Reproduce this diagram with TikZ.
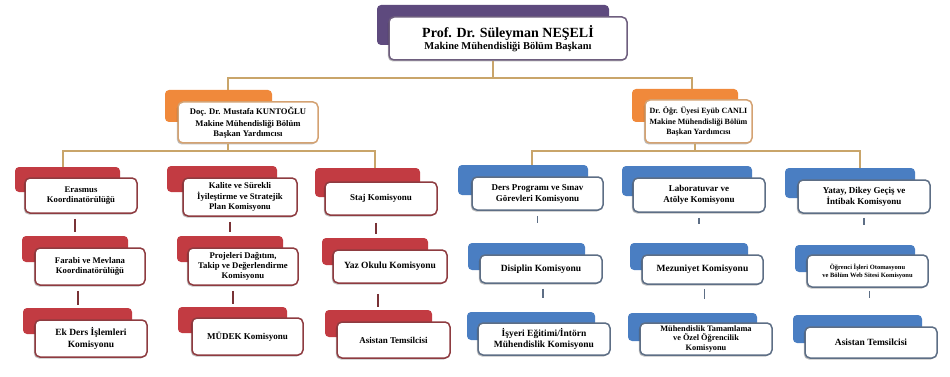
\documentclass[tikz,border=0pt]{standalone}
\usepackage{fontspec}
\setmainfont{Liberation Serif}
\usetikzlibrary{shadows}
\definecolor{purp}{HTML}{5E4A7E}
\definecolor{purpb}{HTML}{6E5E7E}
\definecolor{orn}{HTML}{F0893B}
\definecolor{ornb}{HTML}{D4A272}
\definecolor{rd}{HTML}{C23B42}
\definecolor{rdb}{HTML}{8E3B40}
\definecolor{bl}{HTML}{4A7EC2}
\definecolor{blb}{HTML}{5D6E85}
\definecolor{tan}{HTML}{C9A56A}
\newcommand{\bx}[7]{\node[#2, minimum width={(#5-#3)*1pt}, minimum height={(#6-#4)*1pt}] (#1) at ({(#3+#5)/2},{(#4+#6)/2}) {#7};}
\begin{document}
\begin{tikzpicture}[x=1pt,y=-1pt,
  backbox/.style={rounded corners=4pt, inner sep=0pt, draw=none},
  frontbox/.style={rounded corners=5pt, inner sep=1pt, fill=white, line width=1.5pt, align=center, font=\bfseries\fontsize{8.7}{10.2}\selectfont,
     drop shadow={shadow xshift=-1.2pt, shadow yshift=-1.5pt, opacity=0.25, fill=black}},
  fsz/.style={font=\bfseries\fontsize{#1}{11.5}\selectfont},
  purpback/.style={backbox, fill=purp},
  purpfront/.style={frontbox, draw=purpb},
  ornback/.style={backbox, fill=orn},
  ornfront/.style={frontbox, draw=ornb, font=\bfseries\fontsize{8.6}{10.2}\selectfont},
  redback/.style={backbox, fill=rd},
  redfront/.style={frontbox, draw=rdb},
  blueback/.style={backbox, fill=bl},
  bluefront/.style={frontbox, draw=blb, font=\bfseries\fontsize{9}{11}\selectfont},
  conn/.style={draw=tan, line width=1.5pt},
  redstub/.style={draw=rdb!85!black, line width=1.6pt},
  bluestub/.style={draw=blb, line width=1.6pt}
]
\useasboundingbox (0,0) rectangle (950,377);
\fill[white] (0,0) rectangle (950,377);

% top
\bx{topB}{purpback}{377}{5}{609}{45}{}
\bx{topF}{purpfront}{389}{17}{627}{60}{{\fontsize{14}{16}\selectfont Prof. Dr. Süleyman NEŞELİ}\\{\fontsize{10.5}{11.5}\selectfont Makine Mühendisliği Bölüm Başkanı}}

% orange
\bx{OLB}{ornback}{165}{90}{272}{122}{}
\bx{OLF}{ornfront}{178}{102}{318}{143}{Doç. Dr. Mustafa KUNTOĞLU\\[1.5pt]Makine Mühendisliği Bölüm\\Başkan Yardımcısı}
\bx{ORB}{ornback}{632}{89}{738}{122}{}
\bx{ORF}{ornfront, font=\bfseries\fontsize{8}{10}\selectfont}{645}{100}{752}{143}{Dr. Öğr. Üyesi Eyüb CANLI\\[1.5pt]Makine Mühendisliği Bölüm\\Başkan Yardımcısı}

% red groups
\bx{R11B}{redback}{15}{167}{120}{192}{}
\bx{R11F}{redfront}{25}{178}{137}{213}{Erasmus\\Koordinatörülüğü}
\bx{R12B}{redback}{167}{166}{277}{192}{}
\bx{R12F}{redfront}{183}{178}{297}{216}{Kalite ve Sürekli\\İyileştirme ve Stratejik\\Plan Komisyonu}
\bx{R13B}{redback}{315}{168}{420}{197}{}
\bx{R13F}{redfront, fsz=9}{325}{182}{437}{215}{Staj Komisyonu}
\bx{R21B}{redback}{22}{236}{128}{262}{}
\bx{R21F}{redfront}{35}{248}{145}{285}{Farabi ve Mevlana\\Koordinatörülüğü}
\bx{R22B}{redback}{177}{236}{283}{262}{}
\bx{R22F}{redfront}{188}{248}{298}{285}{Projeleri Dağıtım,\\Takip ve Değerlendirme\\Komisyonu}
\bx{R23B}{redback}{322}{238}{428}{265}{}
\bx{R23F}{redfront, fsz=9.5}{333}{250}{447}{283}{Yaz Okulu Komisyonu}
\bx{R31B}{redback}{23}{308}{132}{334}{}
\bx{R31F}{redfront, fsz=9.5}{35}{320}{147}{357}{Ek Ders İşlemleri\\Komisyonu}
\bx{R32B}{redback}{178}{307}{287}{333}{}
\bx{R32F}{redfront, fsz=9}{192}{318}{303}{355}{MÜDEK Komisyonu}
\bx{R33B}{redback}{325}{310}{432}{337}{}
\bx{R33F}{redfront, fsz=9}{337}{322}{450}{358}{Asistan Temsilcisi}

% blue groups
\bx{B11B}{blueback}{458}{165}{588}{195}{}
\bx{B11F}{bluefront}{472}{177}{603}{210}{Ders Programı ve Sınav\\Görevleri Komisyonu}
\bx{B12B}{blueback}{622}{166}{752}{196}{}
\bx{B12F}{bluefront}{633}{178}{765}{212}{Laboratuvar ve\\Atölye Komisyonu}
\bx{B13B}{blueback}{785}{168}{915}{198}{}
\bx{B13F}{bluefront}{798}{180}{930}{213}{Yatay, Dikey Geçiş ve\\İntibak Komisyonu}
\bx{B21B}{blueback}{468}{243}{585}{270}{}
\bx{B21F}{bluefront, fsz=9.5}{480}{255}{602}{283}{Disiplin Komisyonu}
\bx{B22B}{blueback}{630}{243}{748}{270}{}
\bx{B22F}{bluefront, fsz=9.5}{642}{255}{763}{284}{Mezuniyet Komisyonu}
\bx{B23B}{blueback}{795}{245}{915}{272}{}
\bx{B23F}{bluefront, font=\bfseries\fontsize{6.5}{8}\selectfont}{807}{255}{928}{287}{Öğrenci İşleri Otomasyonu\\ve Bölüm Web Sitesi Komisyonu}
\bx{B31B}{blueback}{467}{312}{595}{340}{}
\bx{B31F}{bluefront, fsz=9.5}{478}{323}{610}{355}{İşyeri Eğitimi/İntörn\\Mühendislik Komisyonu}
\bx{B32B}{blueback}{628}{313}{757}{341}{}
\bx{B32F}{bluefront, font=\bfseries\fontsize{8.3}{9.3}\selectfont}{640}{323}{772}{355}{Mühendislik Tamamlama\\ve Özel Öğrencilik\\Komisyonu}
\bx{B33B}{blueback}{793}{315}{922}{343}{}
\bx{B33F}{bluefront, fsz=9.5}{805}{327}{937}{358}{Asistan Temsilcisi}

% top connectors
\coordinate (j0) at (493,78);
\coordinate (jl) at (228,78);
\coordinate (jr) at (692,78);
\draw[conn] (topF.south -| j0) -- (j0);
\draw[conn] (jl |- OLB.north) -- (jl) -- (jr) -- (jr |- ORB.north);

% level-2 connectors left
\coordinate (lc) at (228,151);
\coordinate (la) at (63,151);
\coordinate (lb) at (375,151);
\draw[conn] (OLF.south -| lc) -- (lc);
\draw[conn] (la |- R11B.north) -- (la) -- (lb) -- (lb |- R13B.north);

% level-2 connectors right
\coordinate (rc) at (695,151);
\coordinate (ra) at (532,151);
\coordinate (rb) at (860,151);
\draw[conn] (ORF.south -| rc) -- (rc);
\draw[conn] (ra |- B11B.north) -- (ra) -- (rb) -- (rb |- B13B.north);

% red stubs
\draw[redstub, shorten <=5pt, shorten >=4pt] ([xshift=-6pt]R11F.south) -- ([xshift=-6pt]R11F.south |- R21B.north);
\draw[redstub, shorten <=5pt, shorten >=4pt] ([xshift=-10pt]R12F.south) -- ([xshift=-10pt]R12F.south |- R22B.north);
\draw[redstub, shorten <=7pt, shorten >=4pt] ([xshift=-5pt]R13F.south) -- ([xshift=-5pt]R13F.south |- R23B.north);
\draw[redstub, shorten <=5pt, shorten >=3pt] ([xshift=-12pt]R21F.south) -- ([xshift=-12pt]R21F.south |- R31B.north);
\draw[redstub, shorten <=5pt, shorten >=3pt] ([xshift=-10pt]R22F.south) -- ([xshift=-10pt]R22F.south |- R32B.north);
\draw[redstub, shorten <=10pt, shorten >=3pt] ([xshift=-12pt]R23F.south) -- ([xshift=-12pt]R23F.south |- R33B.north);

% blue stubs
\draw[bluestub, shorten <=5pt, shorten >=20pt] (B11F.south) -- (B11F.south |- B21B.north);
\draw[bluestub, shorten <=5pt, shorten >=19pt] (B12F.south) -- (B12F.south |- B22B.north);
\draw[bluestub, shorten <=4pt, shorten >=20pt] (B13F.south) -- (B13F.south |- B23B.north);
\draw[bluestub, shorten <=5pt, shorten >=14pt] ([xshift=2pt]B21F.south) -- ([xshift=2pt]B21F.south |- B31B.north);
\draw[bluestub, shorten <=4pt, shorten >=14pt] ([xshift=2pt]B22F.south) -- ([xshift=2pt]B22F.south |- B32B.north);
\draw[bluestub, shorten <=3pt, shorten >=17pt] ([xshift=2pt]B23F.south) -- ([xshift=2pt]B23F.south |- B33B.north);
\end{tikzpicture}
\end{document}
